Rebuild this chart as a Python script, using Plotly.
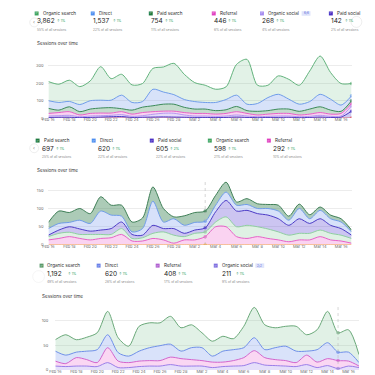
import plotly.graph_objects as go

W = H = 375

dates = ["2025-02-16", "2025-02-17", "2025-02-18", "2025-02-19", "2025-02-20", "2025-02-21",
         "2025-02-22", "2025-02-23", "2025-02-24", "2025-02-25", "2025-02-26", "2025-02-27",
         "2025-02-28", "2025-03-01", "2025-03-02", "2025-03-03", "2025-03-04", "2025-03-05",
         "2025-03-06", "2025-03-07", "2025-03-08", "2025-03-09", "2025-03-10", "2025-03-11",
         "2025-03-12", "2025-03-13", "2025-03-14", "2025-03-15", "2025-03-16", "2025-03-17"]

# ---------------- Panel 1 data (daily sessions per channel) ----------------
p1_other = [0, 0, 0, 0, 0, 0, 0, 0, 0, 0, 0, 0, 0, 0, 0, 0, 0, 0, 0, 0, 0, 0, 0, 0, 0, 0, 0, 0, 0, 0]
p1_paid_social = [4, 5, 5, 3, 4, 6, 8, 9, 4, 5, 6, 7, 6, 5, 4, 4, 3, 4, 6, 4, 3, 4, 4, 5, 3, 4, 6, 4, 6, 40]
p1_organic_social = [8, 9, 11, 5, 8, 8, 8, 11, 6, 9, 16, 21, 22, 13, 8, 8, 7, 8, 12, 8, 5, 6, 8, 7, 5, 6, 10, 6, 6, 30]
p1_referral = [15, 18, 21, 10, 15, 15, 13, 17, 13, 18, 15, 12, 12, 14, 15, 15, 13, 15, 19, 15, 10, 13, 15, 15, 10, 13, 16, 13, 15, 14]
p1_paid_search = [29, 14, 28, 19, 25, 29, 31, 17, 23, 31, 34, 40, 40, 30, 25, 25, 20, 21, 30, 16, 21, 20, 25, 25, 21, 29, 33, 23, 12, 16]
p1_direct = [44, 44, 31, 41, 48, 45, 43, 78, 44, 32, 95, 70, 55, 45, 43, 38, 47, 59, 65, 37, 45, 75, 85, 57, 41, 43, 72, 63, 36, 28]
p1_organic_search = [110, 105, 122, 103, 114, 193, 124, 120, 101, 104, 120, 144, 180, 145, 109, 99, 76, 73, 177, 258, 105, 71, 106, 114, 109, 176, 220, 153, 124, 71]

p1_names = ["Organic search", "Direct", "Paid search", "Referral", "Organic social", "Paid social"]
p1_totals = ["3,862", "1,537", "754", "446", "268", "142"]
p1_pcts = ["55%", "22%", "11%", "6%", "4%", "2%"]
p1_ticks = [0, 100, 200, 300]

# ---------------- Panel 2 data ----------------
p2_other = [0, 0, 0, 0, 0, 0, 0, 0, 0, 0, 0, 0, 0, 0, 0, 0, 0, 0, 0, 0, 0, 0, 0, 0, 0, 0, 0, 0, 0, 0]
p2_referral = [14, 18, 23, 18, 14, 18, 20, 29, 11, 11, 18, 14, 5, 14, 14, 23, 50, 50, 23, 18, 23, 18, 14, 9, 14, 14, 23, 14, 11, 5]
p2_organic_search = [9, 14, 12, 11, 15, 11, 9, 16, 7, 9, 14, 22, 22, 9, 18, 13, 13, 27, 27, 36, 27, 26, 22, 18, 18, 18, 18, 18, 16, 13]
p2_paid_social = [4, 9, 15, 15, 9, 12, 16, 18, 11, 7, 22, 9, 18, 9, 9, 11, 28, 45, 43, 41, 36, 38, 36, 27, 40, 27, 31, 22, 18, 9]
p2_direct = [18, 18, 12, 24, 21, 52, 37, 16, 7, 18, 66, 18, 27, 22, 21, 18, 18, 23, 16, 16, 14, 18, 21, 14, 28, 13, 23, 18, 18, 9]
p2_paid_search = [17, 34, 27, 32, 27, 39, 27, 30, 27, 29, 39, 37, 5, 26, 27, 28, 27, 27, 9, 16, 13, 11, 16, 11, 12, 11, 9, 10, 9, 5]

p2_names = ["Paid search", "Direct", "Paid social", "Organic search", "Referral"]
p2_totals = ["697", "620", "605", "598", "292"]
p2_pcts = ["25%", "22%", "22%", "21%", "10%"]
p2_ticks = [0, 50, 100, 150]

# ---------------- Panel 3 data ----------------
p3_organic_social = [8, 7, 8, 8, 7, 15, 5, 5, 7, 8, 8, 11, 8, 8, 8, 5, 7, 8, 9, 15, 10, 9, 8, 7, 11, 5, 9, 3, 8, 5]
p3_referral = [10, 6, 17, 13, 8, 30, 13, 10, 11, 11, 11, 15, 15, 13, 11, 11, 9, 11, 16, 24, 15, 12, 11, 8, 19, 11, 14, 16, 10, 3]
p3_direct = [20, 17, 11, 17, 26, 26, 17, 13, 20, 26, 30, 26, 15, 24, 26, 12, 22, 22, 20, 26, 16, 24, 29, 23, 8, 25, 32, 17, 18, 7]
p3_organic_search = [23, 41, 25, 28, 34, 47, 30, 20, 50, 50, 46, 56, 47, 46, 30, 30, 30, 22, 43, 61, 50, 40, 40, 50, 33, 40, 63, 39, 45, 16]

p3_names = ["Organic search", "Direct", "Referral", "Organic social"]
p3_totals = ["1,192", "620", "408", "211"]
p3_pcts = ["49%", "26%", "17%", "9%"]
p3_ticks = [0, 50, 100]

change_label = "1%"
change_labels_p2 = ["1%", "1%", "2%", "1%", "1%"]

# ---------------- styling ----------------
FONT = "Inter"
C = {
    "Other": ("#e5535b", "rgba(0,0,0,0)", "#e5535b"),
    "Organic search": ("#62b27c", "rgba(110,190,135,0.20)", "#3fa35f"),
    "Direct": ("#6f9ce9", "rgba(110,150,235,0.28)", "#4d8ef0"),
    "Paid search": ("#3b8a58", "rgba(60,140,90,0.30)", "#1f7a40"),
    "Referral": ("#e760c8", "rgba(240,110,210,0.30)", "#e03fc0"),
    "Organic social": ("#b597ef", "rgba(185,150,240,0.35)", "#a58cf0"),
    "Paid social": ("#4c3bc6", "rgba(80,60,200,0.28)", "#4a2fc4"),
}
C2 = dict(C)
C2["Other"] = ("#f2a93b", "rgba(0,0,0,0)", "#f2a93b")
C2["Paid search"] = ("#3f7f57", "rgba(70,140,95,0.45)", "#1f7a40")
C2["Organic search"] = ("#8fcea0", "rgba(150,210,165,0.30)", "#3fa35f")
C2["Paid social"] = ("#4c3bc6", "rgba(110,90,215,0.35)", "#4a2fc4")
C2["Direct"] = ("#6f9ce9", "rgba(140,170,240,0.35)", "#4d8ef0")
C3 = dict(C)
C3["Organic search"] = ("#6aa879", "rgba(120,190,140,0.22)", "#5a9a6a")
C3["Direct"] = ("#6f8fe9", "rgba(130,160,240,0.30)", "#6a80e8")
C3["Referral"] = ("#d264cc", "rgba(240,140,220,0.35)", "#b060d0")
C3["Organic social"] = ("#9a7de8", "rgba(170,150,240,0.30)", "#8070e0")

fig = go.Figure()


def add_stack(series, colors, xa, ya, group, hover_idx):
    n = len(dates)
    for name, vals in series:
        lc, fc, _ = colors[name]
        sizes = [0] * n
        if hover_idx is not None:
            sizes[hover_idx] = 3.5
        fig.add_trace(go.Scatter(
            x=dates, y=vals, name=name, stackgroup=group, mode="lines+markers",
            line=dict(color=lc, width=1, shape="spline", smoothing=0.8),
            fillcolor=fc, marker=dict(size=sizes, color=lc, line=dict(width=0)),
            xaxis=xa, yaxis=ya, showlegend=False, hoverinfo="skip"))


add_stack([("Other", p1_other), ("Paid social", p1_paid_social), ("Organic social", p1_organic_social),
           ("Referral", p1_referral), ("Paid search", p1_paid_search),
           ("Direct", p1_direct), ("Organic search", p1_organic_search)],
          C, "x", "y", "g1", 29)
add_stack([("Other", p2_other), ("Referral", p2_referral), ("Organic search", p2_organic_search),
           ("Paid social", p2_paid_social), ("Direct", p2_direct),
           ("Paid search", p2_paid_search)],
          C2, "x2", "y2", "g2", 15)
add_stack([("Organic social", p3_organic_social), ("Referral", p3_referral),
           ("Direct", p3_direct), ("Organic search", p3_organic_search)],
          C3, "x3", "y3", "g3", 27)


def xdom(a, b):
    return [a / W, b / W]


def ydom(top, bottom):
    return [1 - bottom / H, 1 - top / H]


axis_common_x = dict(type="date", tickformat="%b %-d", dtick=2 * 86400000, tick0="2025-02-16",
                     showgrid=False, zeroline=False, showline=False, ticks="", ticklen=0,
                     tickfont=dict(size=4, color="#6b6b6b", family=FONT), ticklabelstandoff=-2,
                     range=["2025-02-16", "2025-03-17"], fixedrange=True)
axis_common_y = dict(showgrid=True, gridcolor="#ececec", gridwidth=0.6, zeroline=False,
                     showline=False, ticks="", tickfont=dict(size=4, color="#6b6b6b", family=FONT),
                     ticklabelstandoff=4, fixedrange=True)

fig.update_layout(
    width=W, height=H, margin=dict(l=0, r=0, t=0, b=0),
    paper_bgcolor="white", plot_bgcolor="white", showlegend=False,
    font=dict(family=FONT),
    xaxis=dict(axis_common_x, domain=xdom(35, 343), anchor="y"),
    yaxis=dict(axis_common_y, domain=ydom(46.9, 110.7), range=[0, 365], tickvals=p1_ticks, anchor="x"),
    xaxis2=dict(axis_common_x, domain=xdom(35, 343), anchor="y2"),
    yaxis2=dict(axis_common_y, domain=ydom(172.2, 238.3), range=[0, 180], tickvals=p2_ticks, anchor="x2"),
    xaxis3=dict(axis_common_x, domain=xdom(42, 350.6), anchor="y3"),
    yaxis3=dict(axis_common_y, domain=ydom(299, 364), range=[0, 130], tickvals=p3_ticks, anchor="x3",
                ticklabelstandoff=6),
)

shapes = []
annotations = []


def text(x, y, s, size, color, anchor="left", weight=None):
    annotations.append(dict(x=x / W, y=1 - y / H, xref="paper", yref="paper", text=s,
                            showarrow=False, xanchor=anchor, yanchor="middle",
                            font=dict(size=size, color=color, family=FONT, weight=weight)))


def checkbox(x, y, color):
    shapes.append(dict(type="rect", xref="paper", yref="paper", x0=x / W, x1=(x + 4) / W,
                       y0=1 - (y + 2) / H, y1=1 - (y - 2) / H, fillcolor=color,
                       line=dict(width=0)))
    text(x + 2, y, "✓", 3, "white", anchor="center")


def card(xbox, ybox, name, total, change, pct, color, xtext=None, xval=None, badge=None):
    if xtext is None:
        xtext = xbox + 6
    if xval is None:
        xval = xbox
    checkbox(xbox, ybox, color)
    text(xtext, ybox, name, 4.6, "#2e2e2e")
    text(xval, ybox + 8, total, 6.5, "#222222")
    tw = len(total) * 3.4
    text(xval + tw + 4, ybox + 8, "↑ " + change, 3.3, "#1e9a57")
    text(xval, ybox + 16.5, pct + " of all sessions", 3.2, "#8a8a8a")
    if badge:
        bx = xtext + len(name) * 2.45 + 2
        shapes.append(dict(type="rect", xref="paper", yref="paper", x0=bx / W, x1=(bx + 9) / W,
                           y0=1 - (ybox + 2.3) / H, y1=1 - (ybox - 2.3) / H,
                           fillcolor="#dfe4fb", line=dict(width=0), layer="below"))
        text(bx + 4.5, ybox, badge, 3, "#5866d6", anchor="center")


def circle_btn(cx, cy, r, glyph, opacity=1.0):
    shapes.append(dict(type="circle", xref="paper", yref="paper", x0=(cx - r) / W, x1=(cx + r) / W,
                       y0=1 - (cy + r) / H, y1=1 - (cy - r) / H, fillcolor="white",
                       line=dict(color="#e3e3e3", width=0.6), opacity=opacity))
    if glyph:
        text(cx, cy, glyph, 5, "#777777", anchor="center")


# Panel 1 cards
p1_box_x = [21, 78, 137, 201, 250, 320]
p1_colors = [C[n][2] for n in p1_names]
for i, n in enumerate(p1_names):
    card(p1_box_x[i], 5.5, n, p1_totals[i], change_label, p1_pcts[i], p1_colors[i],
         badge="6/6" if n == "Organic social" else None)
circle_btn(20.5, 14.5, 4.5, "‹")
circle_btn(348, 14, 5.5, "")
text(21, 36, "Sessions over time", 4.6, "#3a3a3a")

# Panel 2 cards
p2_box_x = [22, 79, 138, 197, 257]
p2_colors = [C2[n][2] for n in p2_names]
for i, n in enumerate(p2_names):
    card(p2_box_x[i], 133.3, n, p2_totals[i], change_labels_p2[i], p2_pcts[i], p2_colors[i],
         xval=p2_box_x[i] + 4)
circle_btn(20.5, 141, 4.5, "‹")
text(21, 163.5, "Sessions over time", 4.6, "#3a3a3a")

# Panel 3 cards
p3_box_x = [26, 84, 144, 203]
p3_colors = [C3[n][2] for n in p3_names]
for i, n in enumerate(p3_names):
    card(p3_box_x[i], 259, n, p3_totals[i], change_label, p3_pcts[i], p3_colors[i],
         xval=p3_box_x[i] + 6, badge="2/2" if n == "Organic social" else None)
circle_btn(25, 270, 6, "", opacity=0.5)
text(26.5, 290, "Sessions over time", 4.6, "#3a3a3a")

# hover guide lines
shapes.append(dict(type="line", xref="x2", yref="y2 domain", x0=dates[15], x1=dates[15], y0=0, y1=1,
                   line=dict(color="#bbbbbb", width=0.6, dash="dot")))
shapes.append(dict(type="line", xref="x3", yref="y3 domain", x0=dates[27], x1=dates[27], y0=0, y1=1,
                   line=dict(color="#bbbbbb", width=0.6, dash="dot")))

fig.update_layout(shapes=shapes, annotations=annotations)
fig.write_html("out.html")
